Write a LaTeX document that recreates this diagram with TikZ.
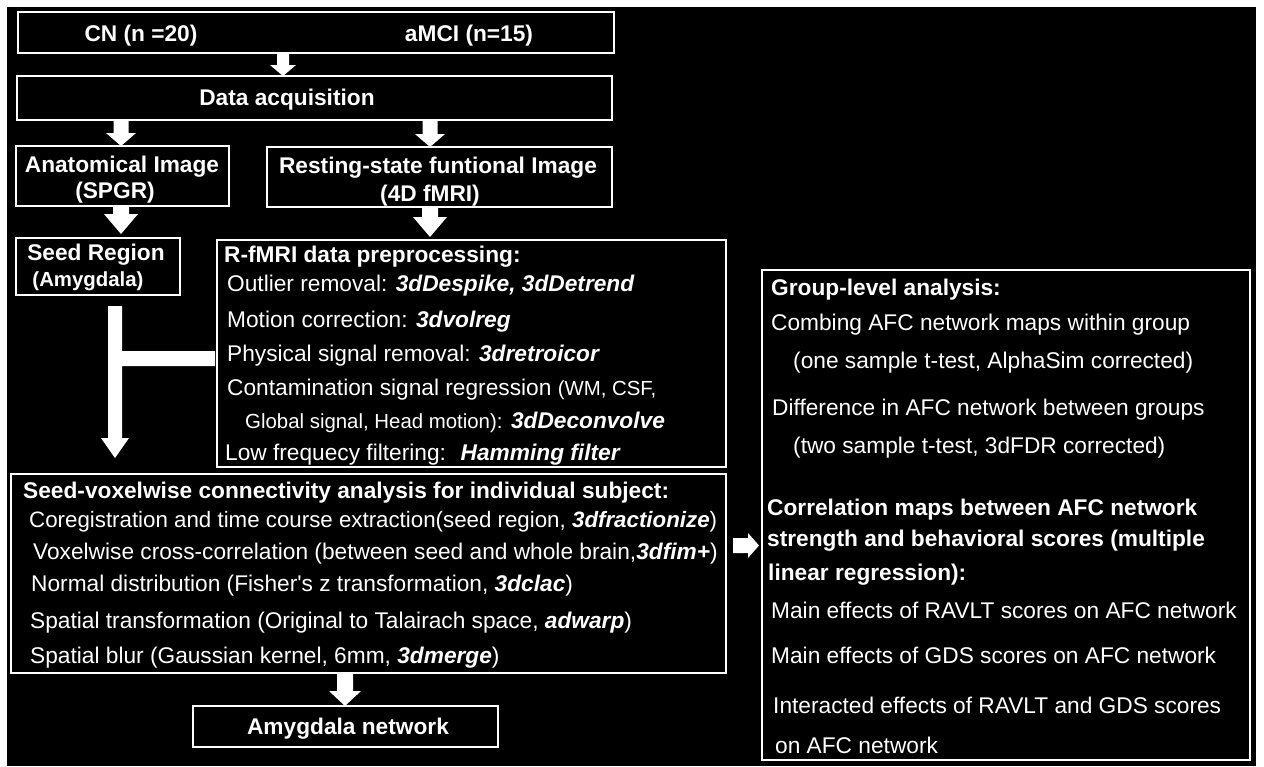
\documentclass[tikz,border=0pt]{standalone}
\usepackage{fontspec}
\setmainfont{Liberation Sans}
\usetikzlibrary{calc}
\newcommand\bi[1]{\textbf{\textit{#1}}}
\newcommand\mainfs{\fontsize{22.7}{27}\selectfont}
\newcommand\smallfs{\fontsize{20.4}{24}\selectfont}
\newcommand\tightfs{\fontsize{22.3}{27}\selectfont}
% fat downward arrow: #1 from, #2 to, #3 head length, #4 half shaft, #5 half head
\newcommand\fatdown[5]{\fill[white] let \p1=(#1), \p2=(#2) in
  (\x1-#4,\y1) -- (\x1+#4,\y1) -- (\x1+#4,\y2+#3) -- (\x1+#5,\y2+#3) -- (\x1,\y2)
  -- (\x1-#5,\y2+#3) -- (\x1-#4,\y2+#3) -- cycle;}
\begin{document}
\begin{tikzpicture}[x=1pt,y=-1pt,
  box/.style={draw=white, line width=2.5pt, rectangle, inner sep=0pt, outer sep=0pt},
  tl/.style={text=white, inner sep=0pt, anchor=base west, font=\mainfs},
  tlb/.style={tl, font=\mainfs\bfseries},
  tc/.style={text=white, inner sep=0pt, anchor=base, font=\mainfs\bfseries}]
\useasboundingbox (0,0) rectangle (1264,766);
\fill[white] (0,0) rectangle (1264,766);
\fill[black] (7,7) rectangle (1256,766);

% boxes
\node[box, minimum width=596pt, minimum height=41pt] (b1) at (316,32.5) {};
\node[box, minimum width=595pt, minimum height=44pt] (b2) at (314.5,98) {};
\node[box, minimum width=213pt, minimum height=60pt] (b3) at (122.5,176) {};
\node[box, minimum width=345pt, minimum height=60pt] (b4) at (439.5,177) {};
\node[box, minimum width=164pt, minimum height=57pt] (b5) at (98,266.5) {};
\node[box, minimum width=509pt, minimum height=227pt] (b6) at (471.5,353.5) {};
\node[box, minimum width=715pt, minimum height=199pt] (b7) at (368.5,573.5) {};
\node[box, minimum width=305pt, minimum height=41pt] (b8) at (345.5,726.5) {};
\node[box, minimum width=488pt, minimum height=490pt] (b9) at (1006,515) {};

% arrow positions
\coordinate (ax1) at (283,0);
\coordinate (ax2) at (121,0);
\coordinate (ax3) at (430,0);
\coordinate (ax4) at (345,0);
\coordinate (bigx) at (115,0);
\coordinate (ry) at (0,545.5);

% arrows
\fatdown{b1.south -| ax1}{b2.north -| ax1}{11pt}{6pt}{13pt}
\fatdown{b2.south -| ax2}{b3.north -| ax2}{13pt}{7.5pt}{15pt}
\fatdown{b2.south -| ax3}{b4.north -| ax3}{13pt}{7.5pt}{15pt}
\fatdown{b3.south -| ax2}{$(b5.north -| ax2)+(0,-4)$}{20pt}{8pt}{17pt}
\fatdown{b4.south -| ax3}{$(b6.north -| ax3)+(0,-3)$}{20pt}{8pt}{17pt}
\fatdown{b7.south -| ax4}{b8.north -| ax4}{15pt}{8pt}{16pt}

% T-shaped arrow
\fill[white] let \p1=($(b5.south -| bigx)+(0,11)$), \p2=($(b7.north -| bigx)+(0,-16)$),
  \p3=($(b6.west)+(-2,5)$) in
  (\x1-7pt,\y1) -- (\x1+7pt,\y1) -- (\x1+7pt,\y3+7.5pt) -- (\x3,\y3+7.5pt)
  -- (\x3,\y3-7.5pt) -- (\x1+7pt,\y3-7.5pt) -- (\x1+7pt,\y2+20pt)
  -- (\x1+14pt,\y2+20pt) -- (\x2,\y2) -- (\x1-14pt,\y2+20pt)
  -- (\x1-7pt,\y2+20pt) -- cycle;

% right arrow
\fill[white] let \p1=($(b7.east |- ry)+(7,0)$), \p2=($(b9.west |- ry)+(-3,0)$) in
  (\x1,\y1+7.5pt) -- (\x2-11pt,\y1+7.5pt) -- (\x2-11pt,\y1+12.5pt) -- (\x2,\y1)
  -- (\x2-11pt,\y1-12.5pt) -- (\x2-11pt,\y1-7.5pt) -- (\x1,\y1-7.5pt) -- cycle;

% texts
\node[tc] (t1a) at (141,41) {CN (n =20)};
\node[tc] (t1b) at (469,41) {aMCI (n=15)};
\node[tc] (t2) at (287,105) {Data acquisition};
\node[tc] (t3a) at (122,172) {Anatomical Image};
\node[tc] (t3b) at (115,198) {(SPGR)};
\node[tc] (t4a) at (438,173) {Resting-state funtional Image};
\node[tc] (t4b) at (430,201) {(4D fMRI)};
\node[tc] (t5a) at (96,260) {Seed Region};
\node[tc, font=\smallfs\bfseries] (t5b) at (88,286) {(Amygdala)};

\node[tlb] (t6a) at (224,262) {R-fMRI data preprocessing:};
\node[tl] (t6b) at (227,291) {Outlier removal: \bi{3dDespike, 3dDetrend}};
\node[tl] (t6c) at (227,327) {Motion correction: \bi{3dvolreg}};
\node[tl] (t6d) at (227,361) {Physical signal removal: \bi{3dretroicor}};
\node[tl] (t6e) at (227,395) {Contamination signal regression {\smallfs(WM, CSF,}};
\node[tl] (t6f) at (245,428) {{\smallfs Global signal, Head motion):} \bi{3dDeconvolve}};
\node[tl] (t6g) at (225,460) {Low frequecy filtering: \ \bi{Hamming filter}};

\node[tlb] (t7a) at (23,498) {Seed-voxelwise connectivity analysis for individual subject:};
\node[tl, font=\tightfs] (t7b) at (29,527) {Coregistration and time course extraction(seed region, \bi{3dfractionize})};
\node[tl] (t7c) at (33,559) {Voxelwise cross-correlation (between seed and whole brain,\bi{3dfim+})};
\node[tl] (t7d) at (31,591) {Normal distribution (Fisher\textquotesingle s z transformation, \bi{3dclac})};
\node[tl] (t7e) at (30,628) {Spatial transformation (Original to Talairach space, \bi{adwarp})};
\node[tl] (t7f) at (30,663) {Spatial blur (Gaussian kernel, 6mm, \bi{3dmerge})};

\node[tc] (t8) at (348,734) {Amygdala network};

\node[tlb] (t9a) at (771,295) {Group-level analysis:};
\node[tl] (t9b) at (771,330) {Combing AFC network maps within group};
\node[tl] (t9c) at (793,368) {(one sample t-test, AlphaSim corrected)};
\node[tl] (t9d) at (772,415) {Difference in AFC network between groups};
\node[tl] (t9e) at (793,453) {(two sample t-test, 3dFDR corrected)};
\node[tlb] (t9f) at (767,515) {Correlation maps between AFC network};
\node[tlb] (t9g) at (767,546) {strength and behavioral scores (multiple};
\node[tlb] (t9h) at (768,580) {linear regression):};
\node[tl] (t9i) at (771,618) {Main effects of RAVLT scores on AFC network};
\node[tl] (t9j) at (771,663) {Main effects of GDS scores on AFC network};
\node[tl] (t9k) at (773,713) {Interacted effects of RAVLT and GDS scores};
\node[tl] (t9l) at (775,753) {on AFC network};
\end{tikzpicture}
\end{document}
